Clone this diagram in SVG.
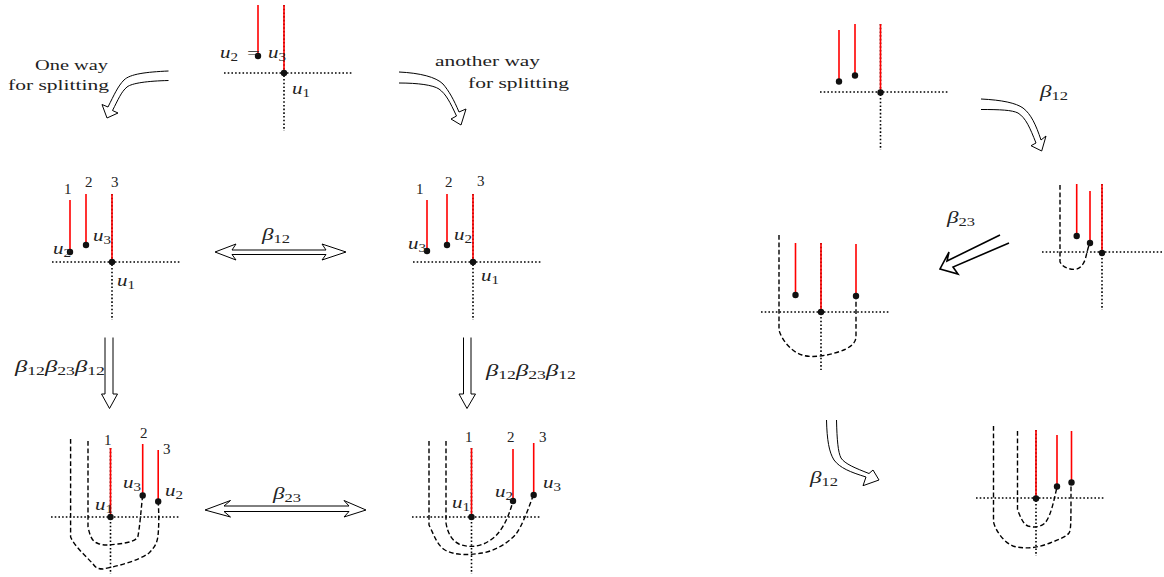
<svg xmlns="http://www.w3.org/2000/svg" width="1164" height="577" viewBox="0 0 1164 577">
<style>
.h{stroke:#000;stroke-width:1.6;stroke-dasharray:1.6 2.1;fill:none}
.r{stroke:#f00;stroke-width:1.6;fill:none}
.d{stroke:#000;stroke-width:1.4;stroke-dasharray:4.8 2.6;fill:none}
.a{stroke:#000;stroke-width:1;fill:#fff;stroke-linejoin:miter}
.b{stroke:#000;stroke-width:1.6;fill:#fff}
circle{fill:#111}
text{font-family:"Liberation Serif","DejaVu Serif",serif;font-size:15px;fill:#222}
.m{font-style:italic;font-size:16px}
.s{font-size:11.500px;font-style:normal}
</style>
<g id="connectors">
<path class="a" d="M168.500 71C146 72 130 74 124 80C118 86 114 95 108 107L102 104.500L107 118L118 113L112.500 110.500C118 100 121 92 127 87C132 83 148 81 168.500 80.500"/>
<path class="a" d="M399 72C420 73 436 77 443 84C449 91 454 100 459 112L466 109L461 125L451 119L456.500 116C450 102 446 94 439 89C433 85 418 83 399 83"/>
<path class="a" d="M232 250H326L322 244L346 252L322 260L326 254.500H232L236 260L215 252L236 244Z"/>
<path class="a" d="M224 506H349L344 500.500L366 510L344 517L349 511.500H224L230.500 517L205 510L230.500 500.500Z"/>
<path class="a" d="M105 337.500V394H101.500L109.500 408.500L117.500 394H113V337.500"/>
<path class="a" d="M463.500 337.500V394H459L467 408.500L475.500 394H471V337.500"/>
<path class="a" d="M981 99C1002 100 1016 103 1023 108C1031 114 1036 125 1041 140L1046 136L1041.700 151L1031 145.700L1036 143C1030 128 1026 118 1018 113C1012 110 1000 109.500 981 109.500"/>
<path class="b" d="M1000 235L947 261L949 252L940 269L958 274L953 267L1009 243"/>
<path class="a" d="M826.500 420C827 440 829 452 834 460C840 468 850 472 866 477L863 485.700L879 480L873 470L869 473.500C855 468 845 464 841 458C838 452 837 440 836.500 420"/>
</g>
<g id="panel-top">
<path class="h" d="M224 73H352M284 5V131"/><path class="r" d="M284 5V73M258 5V56"/>
<circle cx="258" cy="56" r="3.200"/><circle cx="284" cy="73" r="3.200"/>
<text x="220" y="58" class="m" textLength="18" lengthAdjust="spacingAndGlyphs">u<tspan class="s" dy="3">2</tspan></text><text x="247" y="58" font-size="17" textLength="13" lengthAdjust="spacingAndGlyphs">=</text><text x="268" y="58" class="m" textLength="18" lengthAdjust="spacingAndGlyphs">u<tspan class="s" dy="3">3</tspan></text>
<text x="292" y="94" class="m" textLength="18" lengthAdjust="spacingAndGlyphs">u<tspan class="s" dy="3">1</tspan></text>
</g>
<g id="label-one-way">
<text x="35" y="70" textLength="73" lengthAdjust="spacingAndGlyphs">One way</text>
<text x="8" y="90" textLength="101" lengthAdjust="spacingAndGlyphs">for splitting</text>
</g>
<g id="label-another-way">
<text x="435" y="66" textLength="105" lengthAdjust="spacingAndGlyphs">another way</text>
<text x="468" y="88" textLength="101" lengthAdjust="spacingAndGlyphs">for splitting</text>
</g>
<g id="panel-b">
<path class="h" d="M52 262H181M112 194V320"/><path class="r" d="M112 194V262M86 194V245M70 200V252"/>
<circle cx="70" cy="252" r="3.200"/><circle cx="86" cy="245" r="3.200"/><circle cx="112" cy="262" r="3.200"/>
<text x="64" y="194">1</text><text x="85" y="187">2</text><text x="111" y="187">3</text>
<text x="53" y="254" class="m" textLength="18" lengthAdjust="spacingAndGlyphs">u<tspan class="s" dy="3">2</tspan></text><text x="93" y="241" class="m" textLength="18" lengthAdjust="spacingAndGlyphs">u<tspan class="s" dy="3">3</tspan></text><text x="117" y="286" class="m" textLength="18" lengthAdjust="spacingAndGlyphs">u<tspan class="s" dy="3">1</tspan></text>
</g>
<g id="panel-c">
<path class="h" d="M413 262H541M473 194V320"/><path class="r" d="M473 194V262M447 194V245M427 200V251"/>
<circle cx="427" cy="251" r="3.200"/><circle cx="447" cy="245" r="3.200"/><circle cx="473" cy="262" r="3.200"/>
<text x="416" y="194">1</text><text x="445" y="187">2</text><text x="477" y="186">3</text>
<text x="408" y="249" class="m" textLength="18" lengthAdjust="spacingAndGlyphs">u<tspan class="s" dy="3">3</tspan></text><text x="454" y="240" class="m" textLength="18" lengthAdjust="spacingAndGlyphs">u<tspan class="s" dy="3">2</tspan></text><text x="481" y="281" class="m" textLength="18" lengthAdjust="spacingAndGlyphs">u<tspan class="s" dy="3">1</tspan></text>
</g>
<g id="label-b12-top"><text x="262" y="240" class="m" textLength="28" lengthAdjust="spacingAndGlyphs">β<tspan class="s" dy="3">12</tspan></text></g>
<g id="label-b23-mid"><text x="273" y="499" class="m" textLength="28" lengthAdjust="spacingAndGlyphs">β<tspan class="s" dy="3">23</tspan></text></g>
<g id="label-word-left"><text x="15" y="372" class="m" textLength="90" lengthAdjust="spacingAndGlyphs">β<tspan class="s" dy="3">12</tspan><tspan dy="-3">β</tspan><tspan class="s" dy="3">23</tspan><tspan dy="-3">β</tspan><tspan class="s" dy="3">12</tspan></text></g>
<g id="label-word-right"><text x="486" y="376" class="m" textLength="90" lengthAdjust="spacingAndGlyphs">β<tspan class="s" dy="3">12</tspan><tspan dy="-3">β</tspan><tspan class="s" dy="3">23</tspan><tspan dy="-3">β</tspan><tspan class="s" dy="3">12</tspan></text></g>
<g id="panel-d">
<path class="h" d="M51 517H180M110.500 448V574"/><path class="r" d="M110.500 448V517M142.700 444V495M158.200 450V501"/>
<path class="d" d="M70.600 439V537C75 547 86 556 93 564C96 568 98 569 103 569C118 566 138 561 149 553C155 547 157 543 158 536C159 525 159 515 158.200 501"/>
<path class="d" d="M88 441V527C90 536 92 541 97 543C103 546 110 545 118 544C127 543 137 541 138 536C140 525 141 510 142.700 495"/>
<circle cx="142.700" cy="495.500" r="3.200"/><circle cx="158.200" cy="501.500" r="3.200"/><circle cx="110.500" cy="517" r="3.200"/>
<text x="104" y="445">1</text><text x="140" y="438">2</text><text x="163" y="454">3</text>
<text x="123" y="488" class="m" textLength="18" lengthAdjust="spacingAndGlyphs">u<tspan class="s" dy="3">3</tspan></text><text x="165" y="496" class="m" textLength="18" lengthAdjust="spacingAndGlyphs">u<tspan class="s" dy="3">2</tspan></text><text x="95" y="510" class="m" textLength="18" lengthAdjust="spacingAndGlyphs">u<tspan class="s" dy="3">1</tspan></text>
</g>
<g id="panel-e" transform="translate(-2 0)">
<path class="h" d="M414 517H542M473.500 448V574"/><path class="r" d="M473.500 448V517M515 449V501M535.700 443V495"/>
<path class="d" d="M431 441V525C436 535 439 545 447 550C458 556 472 555 484 553C497 551 510 543 518 534C524 526 530 510 535 496"/>
<path class="d" d="M448 441V523C450 535 455 541 461 544C470 548 482 547 491 541C502 535 510 520 515 501"/>
<circle cx="515" cy="501" r="3.200"/><circle cx="535.700" cy="495" r="3.200"/><circle cx="473.500" cy="517" r="3.200"/>
<text x="467" y="442">1</text><text x="509" y="442">2</text><text x="541" y="442">3</text>
<text x="454" y="508" class="m" textLength="18" lengthAdjust="spacingAndGlyphs">u<tspan class="s" dy="3">1</tspan></text><text x="497" y="497" class="m" textLength="18" lengthAdjust="spacingAndGlyphs">u<tspan class="s" dy="3">2</tspan></text><text x="545" y="488" class="m" textLength="18" lengthAdjust="spacingAndGlyphs">u<tspan class="s" dy="3">3</tspan></text>
</g>
<g id="panel-f">
<path class="h" d="M820 92H949M880.500 24V150"/><path class="r" d="M880.500 24V92M855 24V75M839 30V81"/>
<circle cx="839" cy="81.500" r="3.200"/><circle cx="855" cy="75.500" r="3.200"/><circle cx="880.500" cy="92.500" r="3.200"/>
</g>
<g id="label-b12-f"><text x="1040" y="97" class="m" textLength="28" lengthAdjust="spacingAndGlyphs">β<tspan class="s" dy="3">12</tspan></text></g>
<g id="panel-g">
<path class="h" d="M1042 252H1164M1102 184V310"/><path class="r" d="M1102 184V252M1076.700 184V236M1090 191V243"/>
<path class="d" d="M1060 185V262C1063 267 1067 269 1075 269.500C1080 269 1083 265 1085 260C1087 253 1088 247 1090 243"/>
<circle cx="1076.700" cy="236" r="3.200"/><circle cx="1090" cy="243" r="3.200"/><circle cx="1102" cy="253" r="3.200"/>
</g>
<g id="label-b23-g"><text x="947" y="223" class="m" textLength="28" lengthAdjust="spacingAndGlyphs">β<tspan class="s" dy="3">23</tspan></text></g>
<g id="panel-h">
<path class="h" d="M761 312H890M821 243V370"/><path class="r" d="M821 243V312M795.500 243V295M856 244V296"/>
<path class="d" d="M779 235V330C782 341 792 352 802 355C815 359 835 354 846 349C853 345 856 342 856 336V296"/>
<circle cx="795.500" cy="295" r="3.200"/><circle cx="821" cy="312" r="3.200"/><circle cx="856" cy="296" r="3.200"/>
</g>
<g id="label-b12-h"><text x="810" y="483" class="m" textLength="28" lengthAdjust="spacingAndGlyphs">β<tspan class="s" dy="3">12</tspan></text></g>
<g id="panel-i">
<path class="h" d="M976 498H1105M1036 430V556"/><path class="r" d="M1036 430V498M1057 435V487M1071.500 431V483"/>
<path class="d" d="M993.500 426V522C996 532 1005 543 1013 546C1026 550 1040 547 1050 543C1060 539 1066 537 1069 533C1071 530 1071 525 1071 483"/>
<path class="d" d="M1017.500 431V510C1021 518 1023 524 1028 526C1034 528 1041 527 1045 523C1051 516 1054 500 1057 487"/>
<circle cx="1036" cy="498.500" r="3.200"/><circle cx="1057" cy="486.500" r="3.200"/><circle cx="1071.500" cy="482.500" r="3.200"/>
</g>
</svg>
